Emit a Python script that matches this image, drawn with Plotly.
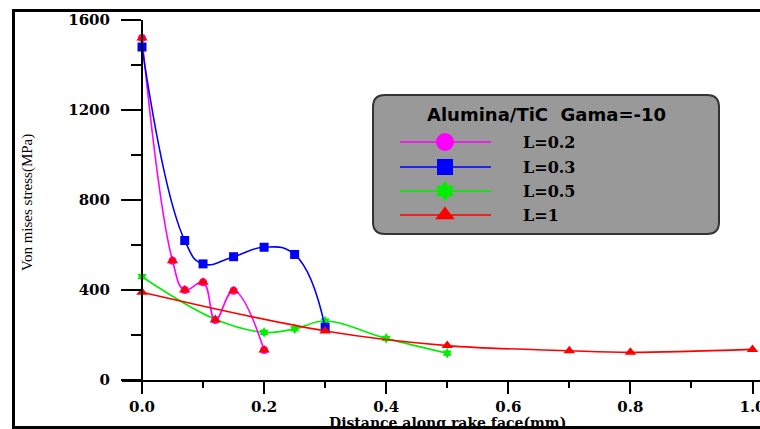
import plotly.graph_objects as go

# ---------------- data ----------------
x_l02 = [0.0, 0.05, 0.07, 0.10, 0.12, 0.15, 0.20]
y_l02 = [1520, 530, 400, 434, 267, 397, 133]

x_l03 = [0.0, 0.07, 0.10, 0.15, 0.20, 0.25, 0.30]
y_l03 = [1480, 620, 516, 548, 590, 558, 234]

x_l05 = [0.0, 0.12, 0.20, 0.25, 0.30, 0.40, 0.50]
y_l05 = [459, 270, 212, 227, 262, 185, 119]

x_l1 = [0.0, 0.30, 0.50, 0.70, 0.80, 1.00]
y_l1 = [390, 218, 153, 130, 123, 136]

x_ticks = [0.0, 0.2, 0.4, 0.6, 0.8, 1.0]
x_ticklabels = ["0.0", "0.2", "0.4", "0.6", "0.8", "1.0"]
y_ticks = [0, 400, 800, 1200, 1600]
y_ticklabels = ["0", "400", "800", "1200", "1600"]

legend_title = "Alumina/TiC  Gama=-10"
series_names = ["L=0.2", "L=0.3", "L=0.5", "L=1"]
series_colors = ["#ff00ff", "#0000ff", "#00ee00", "#ff0000"]
series_symbols = ["circle", "square", "hexagram", "triangle-up"]

# ---------------- layout geometry (pixels) ----------------
W, H = 760, 429
PL, PR, PT, PB = 122, 760, 20, 380   # plot area in px
X0PX, X1PX = 142, 752.5              # px of x=0 and x=1
ppu = (X1PX - X0PX) / 1.0
xmin = (PL - X0PX) / ppu
xmax = 1.0 + (PR - X1PX) / ppu


def px(p):
    return (p - PL) / (PR - PL)


def py(p):
    return (PB - p) / (PB - PT)


fig = go.Figure()

data = [(x_l02, y_l02), (x_l03, y_l03), (x_l05, y_l05), (x_l1, y_l1)]
msize = [8, 9, 8, 10]
smooth = [1.2, 1.3, 1.1, 1.0]
order = [2, 0, 1, 3]  # draw green first so its 0.12 marker sits under the triangles
for i in order:
    xs, ys = data[i]
    fig.add_trace(go.Scatter(
        x=xs, y=ys, name=series_names[i], mode="lines+markers",
        line=dict(color=series_colors[i], width=1.6, shape="spline", smoothing=smooth[i]),
        marker=dict(symbol=series_symbols[i], size=msize[i], color=series_colors[i],
                    line=dict(width=0)),
        showlegend=False, cliponaxis=False,
    ))

# red triangles drawn over the L=0.2 points (as in the original)
fig.add_trace(go.Scatter(
    x=x_l02, y=y_l02, mode="markers",
    marker=dict(symbol="triangle-up", size=10, color="#ff0000", line=dict(width=0)),
    showlegend=False, cliponaxis=False,
))

# ---------------- hand-made legend (overlay axes in pixel units) ----------------
leg_rows = [142, 167, 191, 215]
leg_msize = [18, 16, 16, 17]
for row, col, sym, ms in zip(leg_rows, series_colors, series_symbols, leg_msize):
    fig.add_trace(go.Scatter(
        x=[400, 491], y=[row, row], mode="lines", xaxis="x2", yaxis="y2",
        line=dict(color=col, width=1.5), showlegend=False, hoverinfo="skip",
    ))
    fig.add_trace(go.Scatter(
        x=[445], y=[row], mode="markers", xaxis="x2", yaxis="y2",
        marker=dict(symbol=sym, size=ms, color=col, line=dict(width=0)),
        showlegend=False, hoverinfo="skip",
    ))

# rounded legend box
bx0, by0, bx1, by1, r = 373, 95, 719, 234, 12
path = (f"M {px(bx0 + r)} {py(by0)} L {px(bx1 - r)} {py(by0)} "
        f"Q {px(bx1)} {py(by0)} {px(bx1)} {py(by0 + r)} "
        f"L {px(bx1)} {py(by1 - r)} Q {px(bx1)} {py(by1)} {px(bx1 - r)} {py(by1)} "
        f"L {px(bx0 + r)} {py(by1)} Q {px(bx0)} {py(by1)} {px(bx0)} {py(by1 - r)} "
        f"L {px(bx0)} {py(by0 + r)} Q {px(bx0)} {py(by0)} {px(bx0 + r)} {py(by0)} Z")
shapes = [
    dict(type="path", path=path, xref="paper", yref="paper",
         fillcolor="#999999", line=dict(color="#333333", width=2), layer="below"),
    # outer frame
    dict(type="rect", xref="paper", yref="paper",
         x0=px(13.5), x1=px(775), y0=py(10.5), y1=py(427.5),
         line=dict(color="black", width=3), fillcolor="rgba(0,0,0,0)", layer="above"),
]

annotations = [
    dict(text=f"<b>{legend_title}</b>", xref="paper", yref="paper",
         x=px(546), y=py(115), showarrow=False, xanchor="center", yanchor="middle",
         font=dict(family="DejaVu Sans", size=18, color="black")),
    dict(text="Von mises stress(MPa)", xref="paper", yref="paper",
         x=px(27), y=py(203), showarrow=False, textangle=-90,
         xanchor="center", yanchor="middle",
         font=dict(family="Liberation Serif", size=15, color="black")),
    dict(text="<b>Distance along rake face(mm)</b>", xref="paper", yref="paper",
         x=px(447), y=py(423), showarrow=False, xanchor="center", yanchor="middle",
         font=dict(family="DejaVu Serif", size=14, color="black")),
]
for row, name in zip(leg_rows, series_names):
    annotations.append(dict(
        text=f"<b>{name}</b>", xref="paper", yref="paper",
        x=px(521), y=py(row), showarrow=False, xanchor="left", yanchor="middle",
        font=dict(family="DejaVu Serif", size=16, color="black")))

tickfont = dict(family="DejaVu Serif", size=15, color="black", weight="bold")

fig.update_layout(
    width=W, height=H, autosize=False,
    margin=dict(l=PL, r=W - PR, t=PT, b=H - PB, pad=0, autoexpand=False),
    paper_bgcolor="white", plot_bgcolor="white",
    showlegend=False,
    shapes=shapes, annotations=annotations,
    xaxis=dict(
        range=[xmin, xmax], tickvals=x_ticks, ticktext=x_ticklabels,
        showgrid=False, zeroline=False, showline=True, linecolor="black", linewidth=2,
        ticks="outside", ticklen=12, tickwidth=2, tickcolor="black",
        minor=dict(ticks="outside", ticklen=6, tickwidth=2, tickcolor="black",
                   tick0=0.1, dtick=0.2, showgrid=False),
        tickfont=tickfont, ticklabelstandoff=0, ticklabeloverflow="allow",
        automargin=False, fixedrange=True,
    ),
    yaxis=dict(
        range=[0, 1600], tickvals=y_ticks, ticktext=y_ticklabels,
        anchor="free", position=(0 - xmin) / (xmax - xmin),
        showgrid=False, zeroline=False, showline=True, linecolor="black", linewidth=2,
        ticks="outside", ticklen=20, tickwidth=2, tickcolor="black",
        minor=dict(ticks="outside", ticklen=10, tickwidth=2, tickcolor="black",
                   tick0=200, dtick=400, showgrid=False),
        tickfont=tickfont, ticklabelstandoff=8, automargin=False, fixedrange=True,
    ),
    xaxis2=dict(overlaying="x", range=[PL, PR], visible=False, fixedrange=True,
                automargin=False),
    yaxis2=dict(overlaying="y", range=[PB, PT], visible=False, fixedrange=True,
                automargin=False),
)

fig.write_html(
    "out.html",
    config={"displayModeBar": False},
    post_script="document.body.style.margin='0';document.body.style.padding='0';"
                "document.body.style.overflow='hidden';",
)
